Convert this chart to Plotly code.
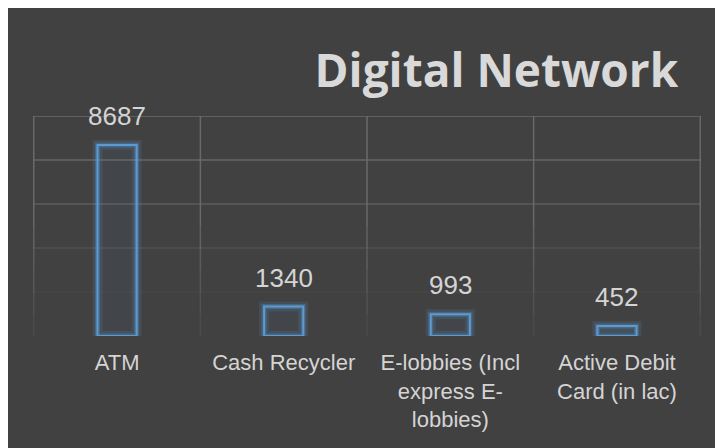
import plotly.graph_objects as go

categories = ["ATM", "Cash Recycler", "E-lobbies (Incl<br>express E-<br>lobbies)", "Active Debit<br>Card (in lac)"]
values = [8687, 1340, 993, 452]
value_labels = ["8687", "1340", "993", "452"]
y_ticks = [0, 2000, 4000, 6000, 8000, 10000]

BG = "#414141"
BLUE = "#5b9bd5"
TXT = "#d4d4d4"
BW = 0.235

fig = go.Figure()
# glow layers
fig.add_trace(go.Bar(
    x=categories, y=values, width=BW,
    marker=dict(color="rgba(91,155,213,0.0)", line=dict(color="rgba(91,155,213,0.15)", width=10)),
    hoverinfo="skip", showlegend=False))
fig.add_trace(go.Bar(
    x=categories, y=values, width=BW,
    marker=dict(color="rgba(91,155,213,0.06)", line=dict(color="rgba(91,155,213,0.3)", width=5)),
    hoverinfo="skip", showlegend=False))
fig.add_trace(go.Bar(
    x=categories, y=values, width=BW,
    marker=dict(color="rgba(91,155,213,0.0)", line=dict(color=BLUE, width=2)),
    showlegend=False))

annotations = [dict(x=c, y=v, xref="x", yref="y", text=t, showarrow=False,
                    yanchor="bottom", yshift=12,
                    font=dict(family="Liberation Sans, Arial", size=26, color=TXT))
               for c, v, t in zip(categories, values, value_labels)]

shapes = []
# horizontal grid lines, fading toward bottom
for yv, op in zip(y_ticks[1:], [0.1, 0.35, 0.6, 0.8, 0.9]):
    shapes.append(dict(type="line", xref="paper", yref="y", x0=0, x1=1, y0=yv, y1=yv,
                       line=dict(color=f"rgba(110,110,110,{op})", width=1.5), layer="below"))
# vertical grid lines at category boundaries, fading toward bottom
nseg = 10
for xb in [-0.5, 0.5, 1.5, 2.5, 3.5]:
    for i in range(nseg):
        y0 = y_ticks[-1] * i / nseg
        y1 = y_ticks[-1] * (i + 1) / nseg
        op = min(0.9, 0.1 + 1.3 * (i + 1) / nseg)
        shapes.append(dict(type="line", xref="x", yref="y", x0=xb, x1=xb, y0=y0, y1=y1,
                           line=dict(color=f"rgba(110,110,110,{op:.2f})", width=1.5), layer="below"))

fig.update_layout(
    width=723, height=448,
    paper_bgcolor=BG, plot_bgcolor=BG,
    margin=dict(l=25, r=30, t=108, b=120),
    barmode="overlay",
    shapes=shapes,
    annotations=annotations,
    font=dict(family="Liberation Sans, Arial", color=TXT),
    title=dict(text="<b>Digital Network</b>", x=0.927, xanchor="right", y=0.859, yanchor="middle",
               font=dict(family="Open Sans, Roboto", size=46, color="#d9d9d9")),
)
fig.update_xaxes(showgrid=False, showline=False, zeroline=False, ticks="",
                 tickfont=dict(size=22, color=TXT), ticklabelstandoff=11)
fig.update_yaxes(range=[0, 10000], showgrid=False, zeroline=False, showticklabels=False,
                 tickvals=y_ticks)

fig.write_html("out.html")
